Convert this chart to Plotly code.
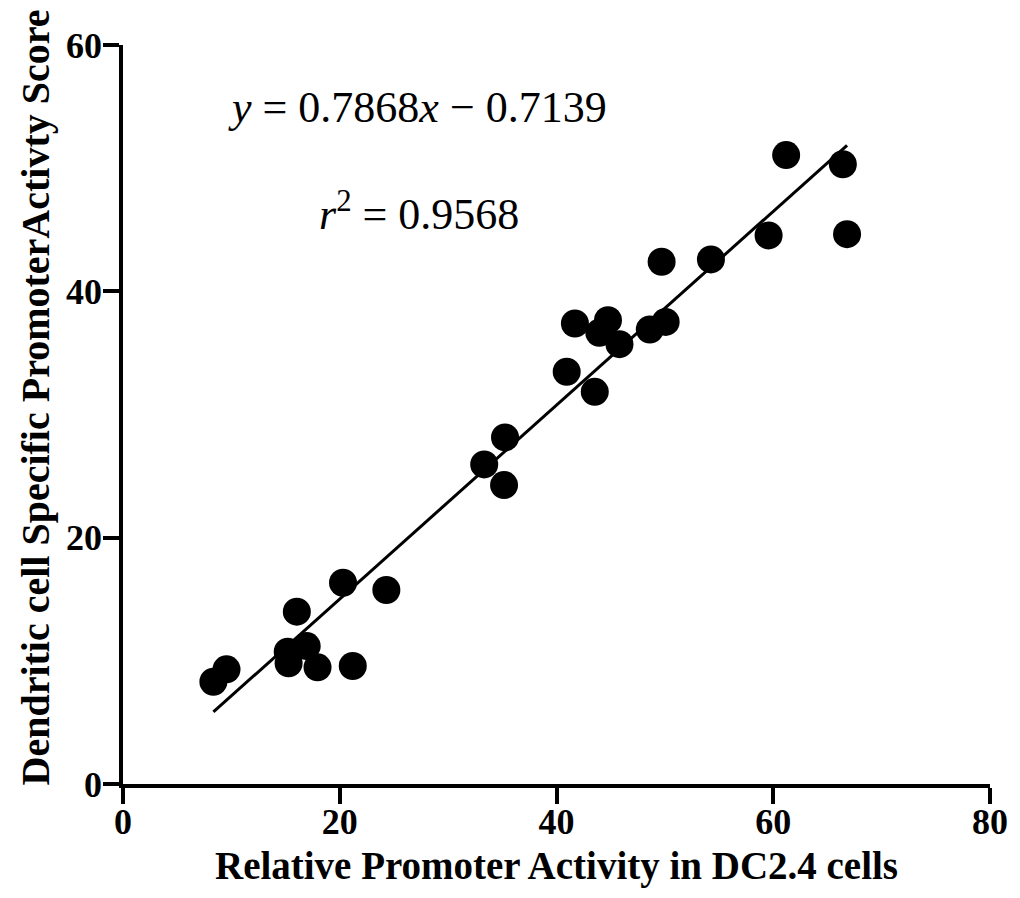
import plotly.graph_objects as go

# Relative promoter activity (DC2.4 cells) vs. DC-specific promoter activity score
activity_dc24 = [8.34, 9.55, 15.2, 15.28, 16.04, 16.95, 17.95, 20.3, 21.2, 24.3,
                 33.33, 35.16, 35.25, 40.94, 41.7, 43.53, 43.95, 44.75, 45.81,
                 48.61, 49.7, 50.07, 54.25, 59.57, 61.19, 66.42, 66.81]
dc_score = [8.30, 9.31, 10.74, 9.80, 13.99, 11.2, 9.47, 16.34, 9.58, 15.75,
            25.95, 24.27, 28.14, 33.47, 37.39, 31.84, 36.63, 37.66, 35.71,
            36.9, 42.4, 37.52, 42.59, 44.54, 51.06, 50.32, 44.64]

# Linear fit reported on the chart
slope = 0.7868
intercept = -0.7139
r_squared = 0.9568

x_ticks = [0, 20, 40, 60, 80]
y_ticks = [0, 20, 40, 60]

x_title = "Relative Promoter Activity in DC2.4 cells"
y_title = "Dendritic cell Specific PromoterActivty Score"

fit_x = [min(activity_dc24), max(activity_dc24)]
fit_y = [slope * v + intercept for v in fit_x]

serif = "Liberation Serif, Times New Roman, serif"
tick_font = dict(family=serif, size=36, color="black", weight="bold")

fig = go.Figure()
fig.add_trace(go.Scatter(
    x=fit_x, y=fit_y, mode="lines",
    line=dict(color="black", width=3),
    showlegend=False, hoverinfo="skip",
))
fig.add_trace(go.Scatter(
    x=activity_dc24, y=dc_score, mode="markers",
    marker=dict(color="black", size=28, line=dict(width=0)),
    showlegend=False,
))

fig.add_annotation(
    x=9.5, y=54.95, xref="x", yref="y", xanchor="left", yanchor="middle",
    text="<i>y</i> = %.4f<i>x</i> \u2212 %.4f" % (slope, -intercept),
    showarrow=False, font=dict(family=serif, size=44, color="black"),
)
fig.add_annotation(
    x=17.9, y=46.45, xref="x", yref="y", xanchor="left", yanchor="middle",
    text="<i>r</i><sup>2</sup> = %.4f" % r_squared,
    showarrow=False, font=dict(family=serif, size=44, color="black"),
)

# y-axis title, placed beside the axis and slightly above centre
fig.add_annotation(
    x=0, y=0.5, xref="paper", yref="paper",
    xanchor="center", yanchor="middle", xshift=-88, yshift=17,
    text=y_title, textangle=-90, showarrow=False,
    font=dict(family=serif, size=40, color="black", weight="bold"),
)

axis_common = dict(
    showgrid=False, zeroline=False, showline=True, linecolor="black",
    linewidth=3.5, ticks="outside", ticklen=16, tickwidth=3.5,
    tickcolor="black", mirror=False,
)

fig.update_layout(
    width=1020, height=898,
    margin=dict(l=123, r=20, t=45, b=114),
    paper_bgcolor="white", plot_bgcolor="white",
    xaxis=dict(
        range=[0, 80], tickvals=x_ticks, ticktext=[str(t) for t in x_ticks],
        ticklabelstandoff=-13, tickfont=tick_font,
        title=dict(text=x_title,
                   font=dict(family=serif, size=39, color="black", weight="bold"),
                   standoff=12),
        **axis_common,
    ),
    yaxis=dict(
        range=[0, 60], tickvals=y_ticks, ticktext=[str(t) for t in y_ticks],
        ticklabelstandoff=-6, tickfont=tick_font,
        **axis_common,
    ),
)

fig.write_html("out.html")
